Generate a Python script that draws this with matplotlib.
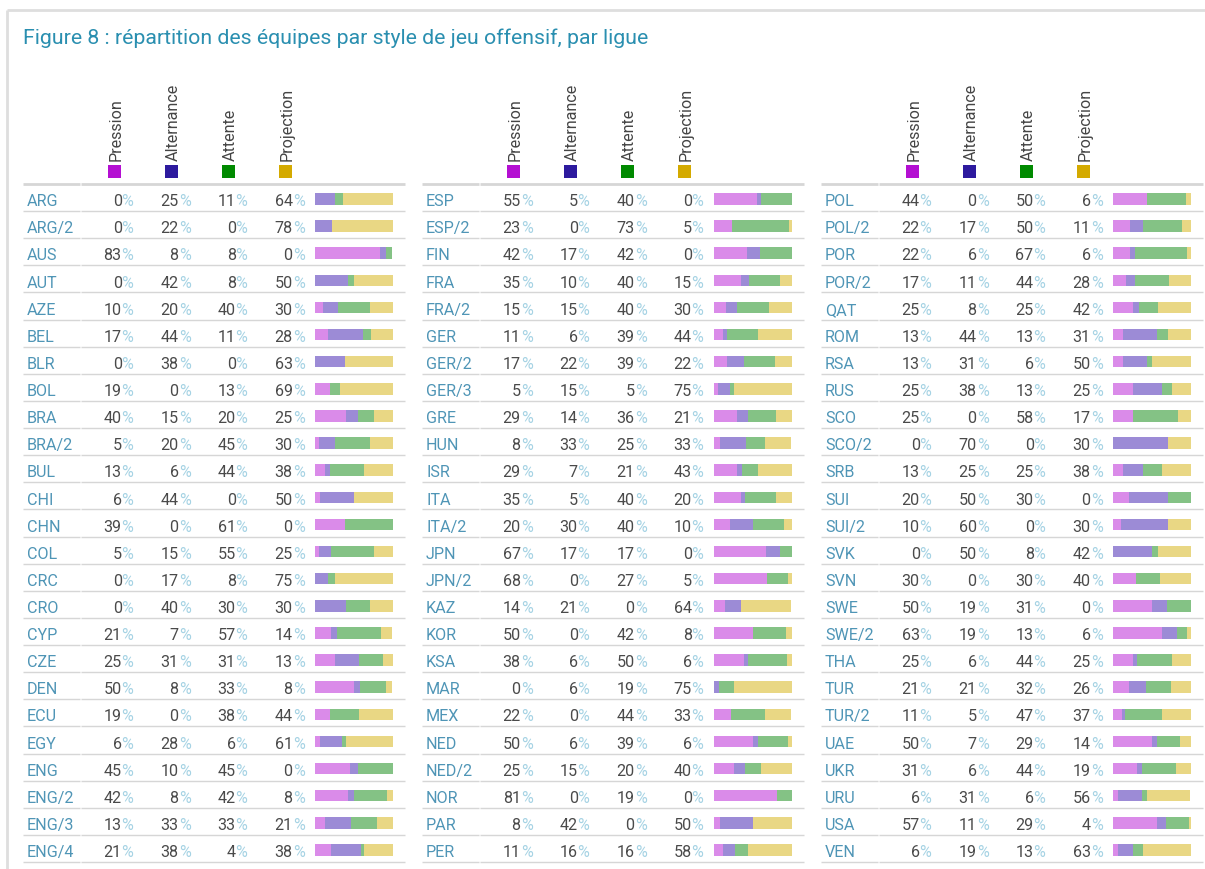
import matplotlib
matplotlib.use("Agg")
import matplotlib.pyplot as plt
from matplotlib.patches import Rectangle
import numpy as np

plt.rcParams['font.family'] = ['Roboto', 'DejaVu Sans']

title = "Figure 8 : répartition des équipes par style de jeu offensif, par ligue"
styles = ["Pression", "Alternance", "Attente", "Projection"]

# left panel
teams1 = ["ARG", "ARG/2", "AUS", "AUT", "AZE", "BEL", "BLR", "BOL", "BRA", "BRA/2",
          "BUL", "CHI", "CHN", "COL", "CRC", "CRO", "CYP", "CZE", "DEN", "ECU",
          "EGY", "ENG", "ENG/2", "ENG/3", "ENG/4"]
pression1 = [0, 0, 83, 0, 10, 17, 0, 19, 40, 5, 13, 6, 39, 5, 0, 0, 21, 25, 50, 19, 6, 45, 42, 13, 21]
alternance1 = [25, 22, 8, 42, 20, 44, 38, 0, 15, 20, 6, 44, 0, 15, 17, 40, 7, 31, 8, 0, 28, 10, 8, 33, 38]
attente1 = [11, 0, 8, 8, 40, 11, 0, 13, 20, 45, 44, 0, 61, 55, 8, 30, 57, 31, 33, 38, 6, 45, 42, 33, 4]
projection1 = [64, 78, 0, 50, 30, 28, 63, 69, 25, 30, 38, 50, 0, 25, 75, 30, 14, 13, 8, 44, 61, 0, 8, 21, 38]

# middle panel
teams2 = ["ESP", "ESP/2", "FIN", "FRA", "FRA/2", "GER", "GER/2", "GER/3", "GRE", "HUN",
          "ISR", "ITA", "ITA/2", "JPN", "JPN/2", "KAZ", "KOR", "KSA", "MAR", "MEX",
          "NED", "NED/2", "NOR", "PAR", "PER"]
pression2 = [55, 23, 42, 35, 15, 11, 17, 5, 29, 8, 29, 35, 20, 67, 68, 14, 50, 38, 0, 22, 50, 25, 81, 8, 11]
alternance2 = [5, 0, 17, 10, 15, 6, 22, 15, 14, 33, 7, 5, 30, 17, 0, 21, 0, 6, 6, 0, 6, 15, 0, 42, 16]
attente2 = [40, 73, 42, 40, 40, 39, 39, 5, 36, 25, 21, 40, 40, 17, 27, 0, 42, 50, 19, 44, 39, 20, 19, 0, 16]
projection2 = [0, 5, 0, 15, 30, 44, 22, 75, 21, 33, 43, 20, 10, 0, 5, 64, 8, 6, 75, 33, 6, 40, 0, 50, 58]

# right panel
teams3 = ["POL", "POL/2", "POR", "POR/2", "QAT", "ROM", "RSA", "RUS", "SCO", "SCO/2",
          "SRB", "SUI", "SUI/2", "SVK", "SVN", "SWE", "SWE/2", "THA", "TUR", "TUR/2",
          "UAE", "UKR", "URU", "USA", "VEN"]
pression3 = [44, 22, 22, 17, 25, 13, 13, 25, 25, 0, 13, 20, 10, 0, 30, 50, 63, 25, 21, 11, 50, 31, 6, 57, 6]
alternance3 = [0, 17, 6, 11, 8, 44, 31, 38, 0, 70, 25, 50, 60, 50, 0, 19, 19, 6, 21, 5, 7, 6, 31, 11, 19]
attente3 = [50, 50, 67, 44, 25, 13, 6, 13, 58, 0, 25, 30, 0, 8, 30, 31, 13, 44, 32, 47, 29, 44, 6, 29, 13]
projection3 = [6, 11, 6, 28, 42, 31, 50, 25, 17, 30, 38, 0, 30, 42, 40, 0, 6, 25, 26, 37, 14, 19, 56, 4, 63]

panels = [
    (teams1, [pression1, alternance1, attente1, projection1]),
    (teams2, [pression2, alternance2, attente2, projection2]),
    (teams3, [pression3, alternance3, attente3, projection3]),
]

key_colors = ["#b40fd2", "#2d1a9e", "#008a00", "#d4aa00"]
bar_colors = ["#da8be9", "#9c8bd6", "#84c285", "#e9d784"]
name_col = "#4f95b6"
num_col = "#4a4a4a"
pct_col = "#a6d3e4"
line_col = "#d6d6d6"
fs = 11.6

W, H = 1205, 870
fig = plt.figure(figsize=(W / 100, H / 100), dpi=100)
ax = fig.add_axes([0, 0, 1, 1])
ax.set_xlim(0, W)
ax.set_ylim(H, 0)
ax.axis("off")

# outer frame (top + left)
ax.plot([7, W], [10.5, 10.5], color="#dedede", lw=2, solid_capstyle="butt")
ax.plot([7, 7], [10.5, H], color="#dedede", lw=2, solid_capstyle="butt")

ax.text(23, 43.5, title, color="#2a8fb0", fontsize=15.3, va="baseline", ha="left")

row_top = 185
row_h = 27.12
nrows = 25
num_right = [133.5, 190.5, 247.5, 304.5]
key_cx = [114.5, 171.5, 228.5, 285.5]
bar_x0, bar_w = 315, 78
panel_dx = 399

r = fig.canvas.get_renderer()
t = ax.text(0, 0, "%", fontsize=fs)
pct_w = t.get_window_extent(renderer=r).width
t.remove()

for p, (teams, vals) in enumerate(panels):
    dx = p * panel_dx

    # header: color keys + rotated labels
    for k, name in enumerate(styles):
        cx = key_cx[k] + dx
        ax.add_patch(Rectangle((cx - 6.5, 166), 13, 13, color=key_colors[k], lw=0))
        ax.text(cx + 1.5, 161, name, rotation=90, ha="center", va="bottom",
                fontsize=11.6, color="#444444")

    # row separators
    for i in range(nrows + 1):
        y = row_top + i * row_h
        lw = 2 if i == 0 else 1
        ax.plot([23 + dx, 79.5 + dx], [y, y], color=line_col, lw=lw, solid_capstyle="butt")
        ax.plot([80.5 + dx, 405 + dx], [y, y], color=line_col, lw=lw, solid_capstyle="butt")

    # text cells
    for i, team in enumerate(teams):
        yb = row_top + i * row_h + 21.2
        ax.text(27 + dx, yb, team, color=name_col, fontsize=fs,
                va="baseline", ha="left")
        for k in range(4):
            xr = num_right[k] + dx
            ax.text(xr, yb, "%", color=pct_col, fontsize=fs,
                    va="baseline", ha="right")
            ax.text(xr - pct_w, yb, str(vals[k][i]), color=num_col, fontsize=fs,
                    va="baseline", ha="right")

    # stacked bars in their own axes (0..100 %)
    bax = fig.add_axes([(bar_x0 + dx) / W, 1 - (row_top + nrows * row_h) / H,
                        bar_w / W, nrows * row_h / H])
    bax.set_xlim(0, 100)
    bax.set_ylim(nrows, 0)
    bax.axis("off")
    yc = np.arange(nrows) + 15 / row_h
    left = np.zeros(nrows)
    for k in range(4):
        v = np.array(vals[k], dtype=float)
        bax.barh(yc, v, left=left, height=11.5 / row_h, color=bar_colors[k], lw=0)
        left += v

fig.savefig("out.png", dpi=100)
